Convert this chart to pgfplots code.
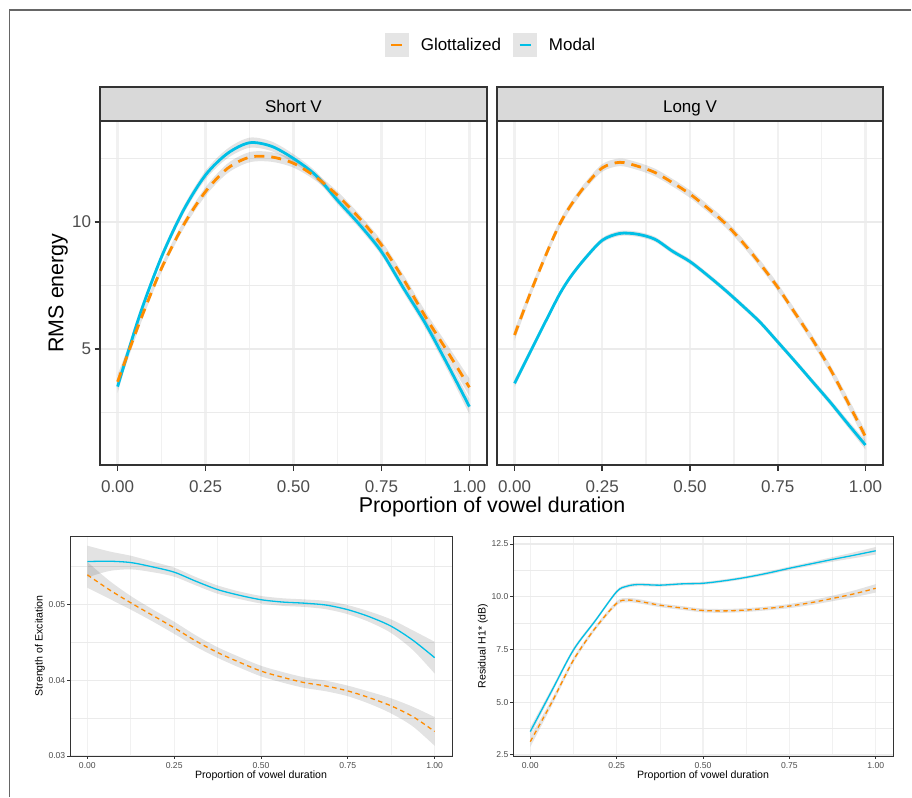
\documentclass[border=0pt]{standalone}
\usepackage{pgfplots}
\pgfplotsset{compat=1.18}
\usepgfplotslibrary{fillbetween}
\usepackage{pgfplotstable}
\usepackage{fontspec}
\setmainfont{Liberation Sans}
\definecolor{gl}{HTML}{FF8C00}
\definecolor{mo}{HTML}{00BFE6}
\definecolor{gridc}{HTML}{EBEBEB}
\definecolor{gridv}{HTML}{F1F1F1}
\definecolor{framec}{HTML}{333333}
\definecolor{tickc}{HTML}{4D4D4D}
\definecolor{stripc}{HTML}{D9D9D9}

\pgfplotstableread{
x      m     ms   g     gs
0.0000 3.52  0.25 3.71  0.28
0.0625 6.32  0.17 6.05  0.17
0.1250 8.63  0.15 8.18  0.15
0.1875 10.47 0.15 9.88  0.15
0.2500 11.85 0.17 11.20 0.17
0.3125 12.70 0.19 12.11 0.19
0.3750 13.12 0.20 12.55 0.20
0.4375 12.98 0.19 12.56 0.19
0.5000 12.50 0.17 12.31 0.17
0.5625 11.85 0.15 11.78 0.15
0.6250 10.85 0.15 11.05 0.15
0.6875 9.90  0.15 10.15 0.15
0.7500 8.83  0.15 9.10  0.16
0.8125 7.40  0.17 7.75  0.18
0.8750 6.00  0.19 6.27  0.21
0.9375 4.40  0.23 4.90  0.26
1.0000 2.73  0.30 3.49  0.35
}\shortv

\pgfplotstableread{
x     m     ms   g     gs
0.000 3.65  0.15 5.55  0.22
0.050 5.03  0.12 7.38  0.17
0.100 6.40  0.10 9.05  0.15
0.130 7.20  0.10 9.95  0.15
0.160 7.85  0.10 10.65 0.14
0.200 8.55  0.10 11.40 0.14
0.250 9.28  0.10 12.13 0.15
0.300 9.55  0.10 12.35 0.15
0.350 9.52  0.10 12.20 0.15
0.400 9.32  0.10 11.95 0.15
0.450 8.85  0.10 11.55 0.15
0.500 8.44  0.10 11.10 0.15
0.550 7.90  0.10 10.55 0.15
0.600 7.32  0.10 9.95  0.15
0.650 6.70  0.10 9.20  0.15
0.700 6.05  0.10 8.35  0.15
0.750 5.28  0.10 7.43  0.15
0.800 4.50  0.10 6.40  0.15
0.850 3.70  0.11 5.35  0.16
0.900 2.90  0.12 4.20  0.17
0.950 2.05  0.14 2.90  0.19
1.000 1.22  0.18 1.55  0.22
}\longv

\pgfplotstableread{
x      m       ms      g       gs
0.0000 0.05570 0.00210 0.05395 0.00170
0.0625 0.05575 0.00130 0.05200 0.00120
0.1250 0.05557 0.00090 0.05025 0.00090
0.1875 0.05500 0.00070 0.04860 0.00080
0.2500 0.05430 0.00060 0.04695 0.00080
0.3125 0.05310 0.00055 0.04520 0.00075
0.3750 0.05200 0.00055 0.04368 0.00070
0.4375 0.05125 0.00050 0.04240 0.00070
0.5000 0.05066 0.00050 0.04123 0.00070
0.5625 0.05035 0.00050 0.04040 0.00070
0.6250 0.05020 0.00050 0.03970 0.00070
0.6875 0.04995 0.00055 0.03925 0.00070
0.7500 0.04934 0.00060 0.03860 0.00070
0.8125 0.04840 0.00070 0.03770 0.00080
0.8750 0.04715 0.00090 0.03662 0.00100
0.9375 0.04530 0.00130 0.03520 0.00130
1.0000 0.04300 0.00210 0.03325 0.00190
}\soe

\pgfplotstableread{
x      m     ms   g     gs
0.0000 3.61  0.20 3.13  0.25
0.0625 5.55  0.13 5.00  0.16
0.1250 7.48  0.10 7.00  0.12
0.1875 8.85  0.08 8.50  0.10
0.2500 10.24 0.08 9.69  0.10
0.2800 10.50 0.08 9.84  0.10
0.3125 10.58 0.08 9.79  0.10
0.3750 10.55 0.07 9.60  0.09
0.4375 10.61 0.07 9.47  0.09
0.5000 10.64 0.07 9.35  0.09
0.5625 10.76 0.07 9.33  0.09
0.6250 10.92 0.07 9.37  0.09
0.6875 11.12 0.08 9.45  0.09
0.7500 11.35 0.08 9.56  0.10
0.8125 11.56 0.09 9.72  0.11
0.8750 11.77 0.11 9.92  0.13
0.9375 11.97 0.14 10.14 0.16
1.0000 12.18 0.18 10.40 0.20
}\hone

\newcommand{\band}[4]{%
\addplot[name path=#4u, draw=none, smooth, forget plot] table[x=x, y expr=\thisrow{#2}+\thisrow{#3}] {#1};
\addplot[name path=#4l, draw=none, smooth, forget plot] table[x=x, y expr=\thisrow{#2}-\thisrow{#3}] {#1};
\addplot[fill=black, fill opacity=0.11, draw=none, forget plot] fill between[of=#4u and #4l];
}
% manual grid lines
\newcommand{\vg}[2]{\draw[gridv, line width=#2] ({axis cs:#1,0}|-{rel axis cs:0,0}) -- ({axis cs:#1,0}|-{rel axis cs:0,1});}
\newcommand{\hg}[2]{\draw[gridc, line width=#2] ({rel axis cs:0,0}|-{axis cs:0,#1}) -- ({rel axis cs:1,0}|-{axis cs:0,#1});}
\newcommand{\xgrid}[2]{%
  \vg{0}{#1}\vg{0.25}{#1}\vg{0.5}{#1}\vg{0.75}{#1}\vg{1}{#1}%
  \vg{0.125}{#2}\vg{0.375}{#2}\vg{0.625}{#2}\vg{0.875}{#2}}

\pgfplotsset{
  common/.style={
    scale only axis, xmin=-0.05, xmax=1.05, set layers,
    xtick={0,0.25,0.5,0.75,1}, xticklabels={0.00,0.25,0.50,0.75,1.00},
    grid=none, tick align=outside, tick pos=left,
    scaled ticks=false, clip=true,
  },
  topax/.style={common,
    width=387bp, height=344bp, ymin=0.433, ymax=13.976,
    ytick={5,10}, yticklabels={5,10},
    axis line style={framec, line width=1.6bp},
    major tick length=5.5bp,
    xtick style={framec, line width=1.6bp},
    ytick style={framec, line width=1.6bp},
    ticklabel style={font=\fontsize{17bp}{17bp}\selectfont, text=tickc},
    xticklabel style={yshift=-7bp},
  },
  botax/.style={common,
    width=382bp, height=220bp,
    axis line style={framec, line width=1bp},
    major tick length=2.7bp,
    xtick style={framec, line width=1bp},
    ytick style={framec, line width=1bp},
    ticklabel style={font=\fontsize{8.6bp}{8.6bp}\selectfont, text=tickc},
    yticklabel style={xshift=1.5bp},
  },
}

\begin{document}
\begin{tikzpicture}
\path (0bp,-798bp) rectangle (912bp,0bp);
\draw[color=black!60, line width=1.8bp] (9.5bp,-797bp) -- (9.5bp,-10bp) -- (911bp,-10bp);

% Short V
\begin{axis}[topax, name=sv, at={(100bp,-465bp)}, anchor=south west,
  legend columns=2,
  legend image code/.code={
    \fill[black!10] (0bp,-10.5bp) rectangle (21bp,10.5bp);
    \draw[#1, solid] (5bp,0bp) -- (16bp,0bp);
    \path (33bp,0bp);},
  legend style={at={(1.008,1.221)}, anchor=center, draw=none, fill=none,
    font=\fontsize{17bp}{17bp}\selectfont, inner sep=0pt,
    nodes={inner sep=0pt, anchor=west},
    /tikz/every even column/.append style={column sep=12bp}},
]
\begin{pgfonlayer}{axis grid}
\xgrid{2.3bp}{1.6bp}
\hg{5}{2.7bp}\hg{10}{2.7bp}\hg{2.5}{1.9bp}\hg{7.5}{1.9bp}\hg{12.5}{1.9bp}
\end{pgfonlayer}
\addlegendimage{gl, line width=2.8bp}
\addlegendentry{Glottalized}
\addlegendimage{mo, line width=2.8bp}
\addlegendentry{Modal}
\band{\shortv}{m}{ms}{sva}
\band{\shortv}{g}{gs}{svb}
\addplot[mo, line width=2.8bp, smooth, forget plot] table[x=x, y=m] {\shortv};
\addplot[gl, line width=2.8bp, smooth, dash pattern=on 10bp off 7bp, forget plot] table[x=x, y=g] {\shortv};
\end{axis}

% Long V
\begin{axis}[topax, name=lv, at={(497bp,-465bp)}, anchor=south west, width=386bp,
  yticklabels={}, ytick style={draw=none}]
\begin{pgfonlayer}{axis grid}
\xgrid{2.3bp}{1.6bp}
\hg{5}{2.7bp}\hg{10}{2.7bp}\hg{2.5}{1.9bp}\hg{7.5}{1.9bp}\hg{12.5}{1.9bp}
\end{pgfonlayer}
\band{\longv}{m}{ms}{lva}
\band{\longv}{g}{gs}{lvb}
\addplot[mo, line width=2.8bp, smooth] table[x=x, y=m] {\longv};
\addplot[gl, line width=2.8bp, smooth, dash pattern=on 10bp off 7bp] table[x=x, y=g] {\longv};
\end{axis}

% strips
\draw[framec, line width=1.6bp, fill=stripc] (sv.north west) rectangle ([yshift=34bp]sv.north east);
\node[font=\fontsize{17bp}{17bp}\selectfont, anchor=base] at ([yshift=9bp]sv.north) {Short V};
\draw[framec, line width=1.6bp, fill=stripc] (lv.north west) rectangle ([yshift=34bp]lv.north east);
\node[font=\fontsize{17bp}{17bp}\selectfont, anchor=base] at ([yshift=9bp]lv.north) {Long V};

\node[font=\fontsize{21.4bp}{21.4bp}\selectfont] at (492bp,-507bp) {Proportion of vowel duration};
\node[font=\fontsize{21.4bp}{21.4bp}\selectfont, rotate=90] at (58bp,-293bp) {RMS energy};

% Strength of excitation
\begin{axis}[botax, name=soe, at={(70bp,-756bp)}, anchor=south west,
  ymin=0.03, ymax=0.05908, ytick={0.03,0.04,0.05}, yticklabels={0.03,0.04,0.05}]
\begin{pgfonlayer}{axis grid}
\xgrid{1.1bp}{0.6bp}
\hg{0.03}{1.4bp}\hg{0.04}{1.4bp}\hg{0.05}{1.4bp}\hg{0.035}{0.8bp}\hg{0.045}{0.8bp}\hg{0.055}{0.8bp}
\end{pgfonlayer}
\band{\soe}{m}{ms}{sea}
\band{\soe}{g}{gs}{seb}
\addplot[mo, line width=1.3bp, smooth] table[x=x, y=m] {\soe};
\addplot[gl, line width=1.3bp, smooth, dash pattern=on 4.5bp off 3.5bp] table[x=x, y=g] {\soe};
\end{axis}
\node[font=\fontsize{10.6bp}{10.6bp}\selectfont, rotate=90] at (40bp,-646bp) {Strength of Excitation};
\node[font=\fontsize{10.6bp}{10.6bp}\selectfont] at (261bp,-776bp) {Proportion of vowel duration};

% H1*
\begin{axis}[botax, name=h1, at={(513bp,-756bp)}, anchor=south west, width=380bp,
  ymin=2.45, ymax=12.88, ytick={2.5,5,7.5,10,12.5}, yticklabels={2.5,5.0,7.5,10.0,12.5}]
\begin{pgfonlayer}{axis grid}
\xgrid{1.1bp}{0.6bp}
\hg{2.5}{1.4bp}\hg{5}{1.4bp}\hg{7.5}{1.4bp}\hg{10}{1.4bp}\hg{12.5}{1.4bp}
\hg{3.75}{0.8bp}\hg{6.25}{0.8bp}\hg{8.75}{0.8bp}\hg{11.25}{0.8bp}
\end{pgfonlayer}
\band{\hone}{m}{ms}{ha}
\band{\hone}{g}{gs}{hb}
\addplot[mo, line width=1.3bp, smooth] table[x=x, y=m] {\hone};
\addplot[gl, line width=1.3bp, smooth, dash pattern=on 4.5bp off 3.5bp] table[x=x, y=g] {\hone};
\end{axis}
\node[font=\fontsize{10.6bp}{10.6bp}\selectfont, rotate=90] at (483bp,-646bp) {Residual H1* (dB)};
\node[font=\fontsize{10.6bp}{10.6bp}\selectfont] at (703bp,-776bp) {Proportion of vowel duration};
\end{tikzpicture}
\end{document}
